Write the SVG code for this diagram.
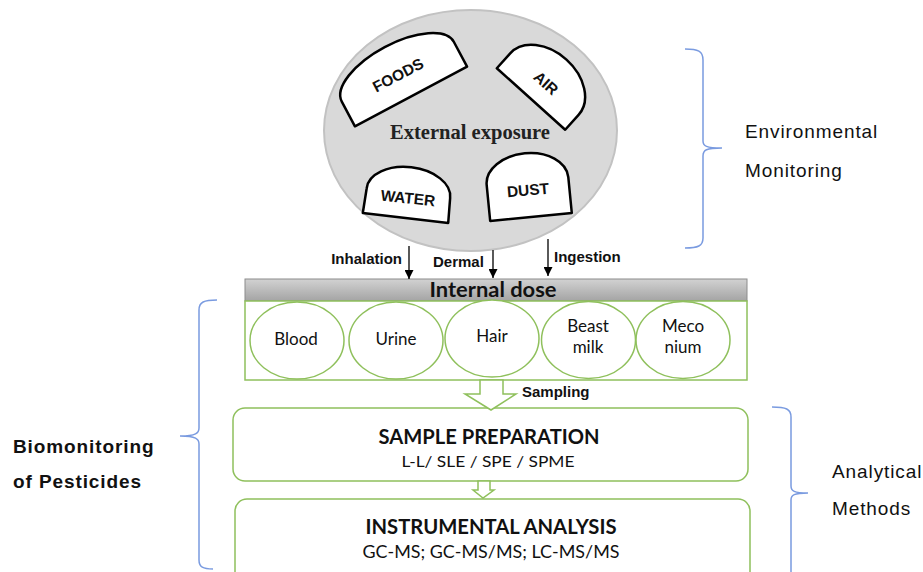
<svg xmlns="http://www.w3.org/2000/svg" width="923" height="572" viewBox="0 0 923 572">
<style>
.src{fill:#fff;stroke:#000;stroke-width:2.5;stroke-linejoin:round}
.srct{font-family:"Liberation Sans",Arial,sans-serif;font-weight:bold;font-size:15.5px;fill:#111;text-anchor:middle}
.grn{fill:#fff;stroke:#8fc05c;stroke-width:1.5}
.brace{fill:none;stroke:#7a9be0;stroke-width:1.5}
.lbl{font-family:"Liberation Sans",Arial,sans-serif;font-size:19px;fill:#111;letter-spacing:0.9px}
.path{font-family:"Liberation Sans",Arial,sans-serif;font-weight:bold;font-size:15px;fill:#111}
.cal{font-family:Lato,"Open Sans",sans-serif;fill:#111;text-anchor:middle}
.arr{stroke:#000;stroke-width:1.3;fill:none}
</style>
<defs>
<marker id="ah" viewBox="0 0 10 10" refX="10" refY="5" markerWidth="9" markerHeight="9" markerUnits="userSpaceOnUse" orient="auto">
<path d="M0,0 L10,5 L0,10 Z" fill="#000"/>
</marker>
<linearGradient id="bar" x1="0" y1="0" x2="0" y2="1">
<stop offset="0" stop-color="#d2d2d2"/>
<stop offset="1" stop-color="#a4a4a4"/>
</linearGradient>
</defs>

<g id="external-exposure">
<ellipse cx="470.5" cy="130.5" rx="146.5" ry="120.5" fill="#d9d9d9" stroke="#c2c2c2" stroke-width="2"/>
<text x="470" y="139" font-family="'Liberation Serif','Times New Roman',serif" font-weight="bold" font-size="21.5" fill="#222" text-anchor="middle" textLength="160" lengthAdjust="spacingAndGlyphs">External exposure</text>
</g>

<g id="foods">
<path class="src" transform="translate(411,96.5) rotate(-28)" d="M-63.5,0 L-63.5,-28 A63.5,28 0 0 1 63.5,-28 L63.5,0 Z"/>
<text class="srct" transform="translate(398,75) rotate(-28)" y="5.5">FOODS</text>
</g>
<g id="air">
<path class="src" transform="translate(531,99) rotate(42)" d="M-46,0 L-46,-20 A46,33 0 0 1 46,-20 L46,0 Z"/>
<text class="srct" transform="translate(546,83) rotate(42)" y="5.5">AIR</text>
</g>
<g id="water">
<path class="src" transform="translate(405.5,218) rotate(6.7)" d="M-43,0 L-42,-25 A42,26 0 0 1 42,-25 L43,0 Z"/>
<text class="srct" transform="translate(408,198) rotate(6)" y="5.5">WATER</text>
</g>
<g id="dust">
<path class="src" transform="translate(531,217) rotate(-5.6)" d="M-41,0 L-41,-36 A41,28 0 0 1 41,-36 L41,0 Z"/>
<text class="srct" transform="translate(528,190) rotate(-5)" y="5.5">DUST</text>
</g>

<g id="internal-dose">
<rect x="245" y="279" width="502" height="22" fill="url(#bar)" stroke="#8c8c8c" stroke-width="1"/>
<text class="cal" x="493" y="297" font-weight="bold" font-size="21" textLength="127" lengthAdjust="spacingAndGlyphs">Internal dose</text>
<rect class="grn" x="245" y="301" width="502" height="79"/>
</g>
<g id="blood">
<ellipse class="grn" cx="297" cy="340.5" rx="47" ry="38.5"/>
<text class="cal" x="296" y="345" font-size="17">Blood</text>
</g>
<g id="urine">
<ellipse class="grn" cx="396" cy="340.5" rx="47" ry="38.5"/>
<text class="cal" x="396" y="345" font-size="17">Urine</text>
</g>
<g id="hair">
<ellipse class="grn" cx="492" cy="338.5" rx="47" ry="38.5"/>
<text class="cal" x="492" y="342" font-size="17">Hair</text>
</g>
<g id="breast-milk">
<ellipse class="grn" cx="588.5" cy="340" rx="47" ry="38.5"/>
<text class="cal" x="588" y="332" font-size="17">Beast</text>
<text class="cal" x="588" y="353" font-size="17">milk</text>
</g>
<g id="meconium">
<ellipse class="grn" cx="683" cy="340" rx="47" ry="38.5"/>
<text class="cal" x="683" y="332" font-size="17">Meco</text>
<text class="cal" x="683" y="353" font-size="17">nium</text>
</g>

<g id="sample-preparation">
<rect class="grn" x="233" y="408" width="515" height="73" rx="12"/>
<text class="cal" x="489" y="444" font-weight="bold" font-size="21" textLength="221" lengthAdjust="spacingAndGlyphs">SAMPLE PREPARATION</text>
<text class="cal" x="488" y="467" font-size="16" textLength="173" lengthAdjust="spacingAndGlyphs">L-L/ SLE / SPE / SPME</text>
</g>
<g id="instrumental-analysis">
<rect class="grn" x="235" y="499" width="515" height="95" rx="12"/>
<text class="cal" x="491" y="534" font-weight="bold" font-size="21" textLength="251" lengthAdjust="spacingAndGlyphs">INSTRUMENTAL ANALYSIS</text>
<text class="cal" x="491" y="558" font-size="17" textLength="257" lengthAdjust="spacingAndGlyphs">GC-MS; GC-MS/MS; LC-MS/MS</text>
</g>

<g id="connectors">
<line class="arr" x1="409" y1="246" x2="409" y2="279" marker-end="url(#ah)"/>
<line class="arr" x1="493" y1="250" x2="493" y2="278" marker-end="url(#ah)"/>
<line class="arr" x1="548" y1="239" x2="548" y2="276" marker-end="url(#ah)"/>
<text class="path" x="402" y="264" text-anchor="end">Inhalation</text>
<text class="path" x="433" y="267">Dermal</text>
<text class="path" x="554" y="262">Ingestion</text>
<polygon class="grn" points="480,380 503,380 503,394 516,394 491,410 465,394 480,394"/>
<text class="path" x="522" y="397">Sampling</text>
<polygon class="grn" points="478,481 490,481 490,490 494,490 483,498 473,490 478,490"/>
</g>

<g id="environmental-monitoring">
<path class="brace" d="M685,49 C698,49 703,51 703,60 L703,141 C703,146 706,148 722,148 M722,148 C706,148 703,150 703,156 L703,238 C703,246 698,248 685,248"/>
<text class="lbl" x="745" y="138">Environmental</text>
<text class="lbl" x="745" y="177">Monitoring</text>
</g>
<g id="biomonitoring">
<path class="brace" d="M217,300 C204,300 199,302 199,310 L199,428 C199,433 196,436 180,436 M180,436 C196,436 199,439 199,444 L199,560 C199,567 203,569 213,569"/>
<text class="lbl" x="13" y="453" font-weight="bold">Biomonitoring</text>
<text class="lbl" x="13" y="488" font-weight="bold">of Pesticides</text>
</g>
<g id="analytical-methods">
<path class="brace" d="M772,407 C786,407 791,409 791,417 L791,486 C791,491 794,493 808,493 M808,493 C794,493 791,495 791,500 L791,590"/>
<text class="lbl" x="832" y="478">Analytical</text>
<text class="lbl" x="832" y="515">Methods</text>
</g>
</svg>
